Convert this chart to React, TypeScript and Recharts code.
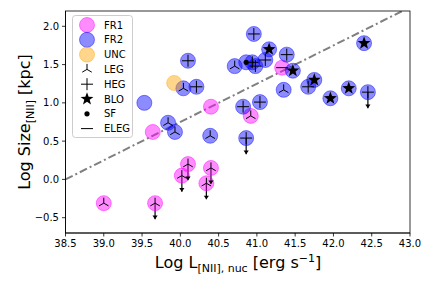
import React from 'react';
import { ScatterChart, Scatter, XAxis, YAxis, ReferenceLine, ErrorBar } from 'recharts';

// ---- data ----
const FR1_X = [39.0, 39.67, 39.64, 40.02, 40.1, 40.4, 40.4, 40.34, 40.92, 41.33];
const FR1_Y = [-0.31, -0.31, 0.62, 0.05, 0.2, 0.95, 0.15, -0.05, 0.83, 1.46];
const FR1_TYPE = ['LEG', 'LEG', '', 'LEG', 'LEG', '', 'LEG', 'LEG', 'LEG', 'ELEG'];
const FR1_LIMIT = [false, true, false, true, true, false, true, true, false, false];

const FR2_X = [39.53, 39.84, 39.93, 40.04, 40.21, 40.1, 40.39, 40.71, 40.86, 40.94, 40.98, 40.96, 41.11, 41.16, 41.04, 40.82, 40.86, 41.39, 41.47, 41.35, 41.67, 41.75, 41.96, 42.2, 42.4, 42.45];
const FR2_Y = [1.0, 0.74, 0.62, 1.19, 1.21, 1.55, 0.57, 1.48, 1.53, 1.53, 1.48, 1.9, 1.56, 1.7, 1.01, 0.95, 0.54, 1.63, 1.42, 1.17, 1.21, 1.3, 1.06, 1.19, 1.78, 1.14];
const FR2_TYPE = ['', 'LEG', 'LEG', 'LEG', 'HEG', 'HEG', 'LEG', 'LEG', 'SF', 'HEG', 'HEG', 'HEG', 'HEG', 'BLO', 'HEG', 'HEG', 'HEG', 'HEG', 'BLO', 'LEG', 'HEG', 'BLO', 'BLO', 'BLO', 'BLO', 'HEG'];
const FR2_LIMIT = [false, false, false, false, false, false, false, false, false, false, false, false, false, false, false, false, true, false, false, false, false, false, false, false, false, true];

const UNC_X = [39.92];
const UNC_Y = [1.26];
const UNC_TYPE = [''];
const UNC_LIMIT = [false];

const ARROW = 0.21;
const ONE_TO_ONE = [{ x: 38.5, y: 0 }, { x: 42.9, y: 2.2 }];

const X_TICKS = [38.5, 39.0, 39.5, 40.0, 40.5, 41.0, 41.5, 42.0, 42.5, 43.0];
const Y_TICKS = [-0.5, 0.0, 0.5, 1.0, 1.5, 2.0];

const LEGEND_CLASSES = [
  { label: 'FR1', color: '#ff00ff' },
  { label: 'FR2', color: '#0000ff' },
  { label: 'UNC', color: '#ffa500' },
];
const LEGEND_TYPES = ['LEG', 'HEG', 'BLO', 'SF', 'ELEG'];

type Pt = { x: number; y: number; type: string; lim: boolean };
const build = (xs: number[], ys: number[], ts: string[], ls: boolean[]): Pt[] =>
  xs.map((x, i) => ({ x, y: ys[i], type: ts[i], lim: ls[i] }));

const FR1 = build(FR1_X, FR1_Y, FR1_TYPE, FR1_LIMIT);
const FR2 = build(FR2_X, FR2_Y, FR2_TYPE, FR2_LIMIT);
const UNC = build(UNC_X, UNC_Y, UNC_TYPE, UNC_LIMIT);
const ALL = [...FR1, ...FR2, ...UNC];
const TIPS = ALL.filter((p) => p.lim).map((p) => ({ x: p.x, y: p.y - ARROW, e: [0, ARROW] }));

const FONT = 'DejaVu Sans, sans-serif';
const ALPHA = 0.45;

function starPath(cx: number, cy: number, ro: number, ri: number) {
  let d = '';
  for (let i = 0; i < 10; i++) {
    const r = i % 2 === 0 ? ro : ri;
    const a = -Math.PI / 2 + (i * Math.PI) / 5;
    d += (i === 0 ? 'M' : 'L') + (cx + r * Math.cos(a)).toFixed(2) + ' ' + (cy + r * Math.sin(a)).toFixed(2) + ' ';
  }
  return d + 'Z';
}

function Marker({ cx, cy, type }: { cx: number; cy: number; type: string }) {
  const s = 5.5;
  switch (type) {
    case 'LEG': {
      const dx = s * Math.sin(Math.PI / 3);
      const dy = s * Math.cos(Math.PI / 3);
      return (
        <path
          d={`M${cx} ${cy} L${cx} ${cy - s} M${cx} ${cy} L${cx - dx} ${cy + dy} M${cx} ${cy} L${cx + dx} ${cy + dy}`}
          stroke="black"
          strokeWidth={1}
          fill="none"
        />
      );
    }
    case 'HEG':
      return <path d={`M${cx - 6} ${cy} H${cx + 6} M${cx} ${cy - 6} V${cy + 6}`} stroke="black" strokeWidth={1} />;
    case 'BLO':
      return <path d={starPath(cx, cy, 6.8, 2.8)} fill="black" />;
    case 'SF':
      return <circle cx={cx} cy={cy} r={2.6} fill="black" />;
    case 'ELEG':
      return <path d={`M${cx - 6} ${cy} H${cx + 6}`} stroke="black" strokeWidth={1} />;
    default:
      return <g />;
  }
}

const circleShape = (color: string) => (props: any) => {
  const { cx, cy } = props;
  if (cx == null || cy == null) return <g />;
  return (
    <circle cx={cx} cy={cy} r={7.5} fill={color} fillOpacity={ALPHA} stroke={color} strokeOpacity={ALPHA} strokeWidth={1} />
  );
};

const markerShape = (props: any) => {
  const { cx, cy, payload } = props;
  if (cx == null || cy == null) return <g />;
  return <Marker cx={cx} cy={cy} type={payload.type} />;
};

const headShape = (props: any) => {
  const { cx, cy } = props;
  if (cx == null || cy == null) return <g />;
  return <path d={`M${cx - 2.6} ${cy - 3.6} L${cx + 2.6} ${cy - 3.6} L${cx} ${cy} Z`} fill="black" />;
};

const fmtY = (v: number) => (v < 0 ? '\u2212' + Math.abs(v).toFixed(1) : v.toFixed(1));

export default function App() {
  const tick = { fill: 'black', fontSize: 10, fontFamily: FONT };
  return (
    <div style={{ position: 'absolute', left: 0, top: 0, width: 432, height: 288, background: 'white' }}>
      <ScatterChart width={432} height={288} margin={{ top: 11, right: 22, bottom: 0, left: 0 }}>
        <XAxis
          type="number"
          dataKey="x"
          domain={[38.5, 43.0]}
          ticks={X_TICKS}
          interval={0}
          allowDataOverflow
          tickFormatter={(v: number) => v.toFixed(1)}
          height={55}
          tick={tick}
          tickSize={3.5}
          tickMargin={3}
          axisLine={{ stroke: 'black', strokeWidth: 0.8 }}
          tickLine={{ stroke: 'black', strokeWidth: 0.8 }}
        />
        <YAxis
          type="number"
          dataKey="y"
          domain={[-0.7, 2.2]}
          ticks={Y_TICKS}
          interval={0}
          allowDataOverflow
          tickFormatter={fmtY}
          width={65.5}
          tick={tick}
          tickSize={3.5}
          tickMargin={3}
          axisLine={{ stroke: 'black', strokeWidth: 0.8 }}
          tickLine={{ stroke: 'black', strokeWidth: 0.8 }}
        />
        <ReferenceLine
          segment={ONE_TO_ONE}
          stroke="gray"
          strokeWidth={2}
          strokeDasharray="8 3 2 3"
          ifOverflow="hidden"
        />
        <Scatter data={FR1} isAnimationActive={false} shape={circleShape('#ff00ff')} />
        <Scatter data={FR2} isAnimationActive={false} shape={circleShape('#0000ff')} />
        <Scatter data={UNC} isAnimationActive={false} shape={circleShape('#ffa500')} />
        <Scatter data={ALL} isAnimationActive={false} shape={markerShape} />
        <Scatter data={TIPS} isAnimationActive={false} shape={headShape}>
          <ErrorBar dataKey="e" direction="y" width={0} stroke="black" strokeWidth={1.2} isAnimationActive={false} />
        </Scatter>
      </ScatterChart>
      <svg width={432} height={288} style={{ position: 'absolute', left: 0, top: 0, pointerEvents: 'none' }}>
        <rect x={65.5} y={11} width={344.5} height={222} fill="none" stroke="black" strokeWidth={0.8} />
        <g>
          <rect x={72.5} y={15.5} width={60} height={122} rx={3} fill="white" fillOpacity={0.8} stroke="#cccccc" strokeWidth={1} />
          {LEGEND_CLASSES.map((c, i) => (
            <g key={c.label}>
              <circle cx={87} cy={25 + i * 14.8} r={7.5} fill={c.color} fillOpacity={ALPHA} stroke={c.color} strokeOpacity={ALPHA} />
              <text x={104} y={25 + i * 14.8 + 3.6} fontSize={10} fontFamily={FONT} fill="black">{c.label}</text>
            </g>
          ))}
          {LEGEND_TYPES.map((t, j) => {
            const i = j + 3;
            const cy = 25 + i * 14.8;
            return (
              <g key={t}>
                <Marker cx={87} cy={cy} type={t} />
                <text x={104} y={cy + 3.6} fontSize={10} fontFamily={FONT} fill="black">{t}</text>
              </g>
            );
          })}
        </g>
        <text x={238} y={268} textAnchor="middle" fontFamily={FONT} fontSize={16} fill="black">
          <tspan>Log L</tspan>
          <tspan fontSize={11} dy={4}>[NII], nuc</tspan>
          <tspan dy={-4}> [erg s</tspan>
          <tspan fontSize={11} dy={-6}>{'\u2212'}1</tspan>
          <tspan dy={6}>]</tspan>
        </text>
        <text
          x={0}
          y={0}
          transform="translate(30,122) rotate(-90)"
          textAnchor="middle"
          fontFamily={FONT}
          fontSize={16}
          fill="black"
        >
          <tspan>Log Size</tspan>
          <tspan fontSize={11} dy={4}>[NII]</tspan>
          <tspan dy={-4}> [kpc]</tspan>
        </text>
      </svg>
    </div>
  );
}
